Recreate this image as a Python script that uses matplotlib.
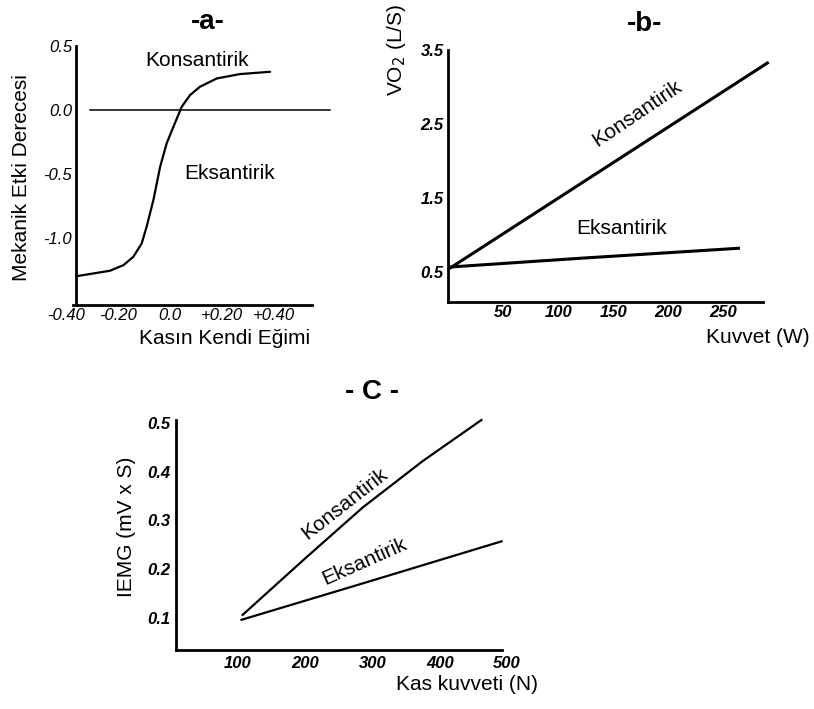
import matplotlib
matplotlib.use("Agg")
import matplotlib.pyplot as plt

plt.rcParams['font.family'] = ['Liberation Sans', 'DejaVu Sans']

W, H = 814, 709

# ---------------- data ----------------
# panel a
a_curve_x = [-0.359, -0.295, -0.231, -0.179, -0.141, -0.109, -0.090, -0.064, -0.038,
             -0.013, 0.013, 0.045, 0.077, 0.115, 0.180, 0.269, 0.385]
a_curve_y = [-1.295, -1.274, -1.253, -1.209, -1.144, -1.040, -0.910, -0.702, -0.442,
             -0.260, -0.130, 0.026, 0.117, 0.182, 0.247, 0.281, 0.299]
a_zero_x = [-0.308, 0.615]
a_zero_y = [0.0, 0.0]
a_xticks = [-0.40, -0.20, 0.0, 0.20, 0.40]
a_xticklabels = ['-0.40', '-0.20', '0.0', '+0.20', '+0.40']
a_yticks = [0.5, 0.0, -0.5, -1.0]
a_yticklabels = ['0.5', '0.0', '-0.5', '-1.0']

# panel b
b_kons_x = [2, 290]
b_kons_y = [0.559, 3.325]
b_eks_x = [2, 120, 263.7]
b_eks_y = [0.572, 0.69, 0.825]
b_xticks = [50, 100, 150, 200, 250]
b_xticklabels = ['50', '100', '150', '200', '250']
b_yticks = [0.5, 1.5, 2.5, 3.5]
b_yticklabels = ['0.5', '1.5', '2.5', '3.5']

# panel c
c_kons_x = [107, 200, 286, 375, 462]
c_kons_y = [0.106, 0.222, 0.327, 0.422, 0.506]
c_eks_x = [105.4, 286.3, 492]
c_eks_y = [0.096, 0.171, 0.257]
c_xticks = [100, 200, 300, 400, 500]
c_xticklabels = ['100', '200', '300', '400', '500']
c_yticks = [0.1, 0.2, 0.3, 0.4, 0.5]
c_yticklabels = ['0.1', '0.2', '0.3', '0.4', '0.5']


def px(x, y):
    return x / W, 1 - y / H


def rect(l, t, r, b):
    return [l / W, 1 - b / H, (r - l) / W, (b - t) / H]


fig = plt.figure(figsize=(W / 100, H / 100), dpi=100)
fig.patch.set_facecolor('white')

SPINE_LW = 2.0
TICK_FS = 12
LBL_FS = 15


def style(ax, xpad=2, ypad=3):
    for s in ['top', 'right']:
        ax.spines[s].set_visible(False)
    for s in ['left', 'bottom']:
        ax.spines[s].set_linewidth(SPINE_LW)
        ax.spines[s].set_color('black')
    ax.tick_params(axis='both', length=0, labelsize=TICK_FS)
    ax.tick_params(axis='x', pad=xpad)
    ax.tick_params(axis='y', pad=ypad)
    for lab in ax.get_xticklabels() + ax.get_yticklabels():
        lab.set_fontstyle('italic')
    ax.set_facecolor('none')


# ---------------- panel a ----------------
axa = fig.add_axes(rect(66, 46, 312, 305))
axa.plot(a_curve_x, a_curve_y, color='black', lw=1.6, solid_capstyle='round')
axa.plot(a_zero_x, a_zero_y, color='black', lw=1.1, clip_on=False)
axa.set_xlim(-0.40, 0.546)
axa.set_ylim(-1.52, 0.5)
axa.spines['left'].set_position(('data', -0.36))
axa.spines['bottom'].set_bounds(-0.375, 0.546)
axa.set_xticks(a_xticks)
axa.set_xticklabels(a_xticklabels)
axa.set_yticks(a_yticks)
axa.set_yticklabels(a_yticklabels)
style(axa)
axa.text(0.103, 0.39, 'Konsantirik', fontsize=LBL_FS, ha='center', va='center')
axa.text(0.231, -0.494, 'Eksantirik', fontsize=LBL_FS, ha='center', va='center')

# ---------------- panel b ----------------
axb = fig.add_axes(rect(448, 50, 763, 302))
axb.plot(b_kons_x, b_kons_y, color='black', lw=2.2, clip_on=False)
axb.plot(b_eks_x, b_eks_y, color='black', lw=2.2, clip_on=False)
axb.set_xlim(0, 286)
axb.set_ylim(0.1, 3.5)
axb.set_xticks(b_xticks)
axb.set_xticklabels(b_xticklabels)
axb.set_yticks(b_yticks)
axb.set_yticklabels(b_yticklabels)
style(axb)
for lab in axb.get_xticklabels() + axb.get_yticklabels():
    lab.set_fontweight('bold')
axb.text(171.4, 2.647, 'Konsantirik', fontsize=LBL_FS, ha='center', va='center', rotation=34)
axb.text(157.8, 1.095, 'Eksantirik', fontsize=LBL_FS, ha='center', va='center')

# ---------------- panel c ----------------
axc = fig.add_axes(rect(176, 420, 507, 650))
axc.plot(c_kons_x, c_kons_y, color='black', lw=1.6, clip_on=False)
axc.plot(c_eks_x, c_eks_y, color='black', lw=1.6, clip_on=False)
axc.set_xlim(8, 500)
axc.set_ylim(0.034, 0.506)
axc.spines['bottom'].set_bounds(8, 492)
axc.set_xticks(c_xticks)
axc.set_xticklabels(c_xticklabels)
axc.set_yticks(c_yticks)
axc.set_yticklabels(c_yticklabels)
style(axc, xpad=4, ypad=4)
for lab in axc.get_xticklabels() + axc.get_yticklabels():
    lab.set_fontweight('bold')
axc.text(259, 0.335, 'Konsantirik', fontsize=LBL_FS, ha='center', va='center', rotation=38)
axc.text(288.8, 0.215, 'Eksantirik', fontsize=LBL_FS, ha='center', va='center', rotation=24)

# ---------------- titles and axis labels ----------------
fig.text(*px(208, 22), '-a-', fontsize=20, fontweight='bold', ha='center', va='center')
fig.text(*px(645, 24), '-b-', fontsize=20, fontweight='bold', ha='center', va='center')
fig.text(*px(372, 392), '- C -', fontsize=20, fontweight='bold', ha='center', va='center')

fig.text(*px(22, 178), 'Mekanik Etki Derecesi', fontsize=LBL_FS, rotation=90, ha='center', va='center')
fig.text(*px(225, 339), 'Kasın Kendi Eğimi', fontsize=LBL_FS, ha='center', va='center')

fig.text(*px(397, 50), 'VO$_2$ (L/S)', fontsize=LBL_FS, rotation=90, ha='center', va='center')
fig.text(*px(758, 338), 'Kuvvet (W)', fontsize=LBL_FS, ha='center', va='center')

fig.text(*px(127, 527), 'IEMG (mV x S)', fontsize=LBL_FS, rotation=90, ha='center', va='center')
fig.text(*px(467, 684), 'Kas kuvveti (N)', fontsize=LBL_FS, ha='center', va='center')

fig.savefig('out.png', dpi=100, facecolor='white')
